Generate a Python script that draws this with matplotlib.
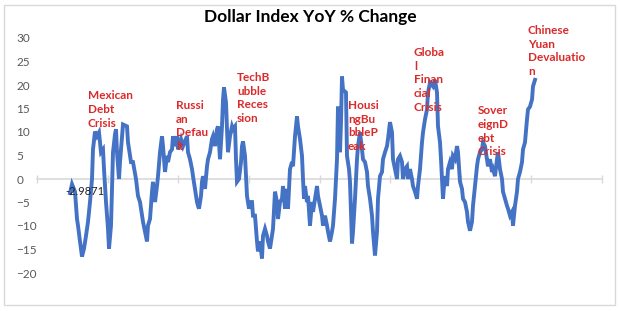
#!/usr/bin/env python3
"""Dollar Index YoY % change with crisis annotations -> out.png"""

import matplotlib
matplotlib.use("Agg")
import matplotlib.pyplot as plt
import numpy as np
from matplotlib.patches import Rectangle

# month index from start of series, YoY % change
month = [
    0, 2, 5, 7, 8, 10, 12, 14, 16, 18, 20, 22, 23, 25, 27, 29, 31, 33, 34, 36,
    38, 39, 41, 42, 43, 45, 46, 47, 49, 50, 52, 53, 57, 58, 61, 63, 66, 68, 70, 73,
    75, 77, 78, 80, 82, 83, 85, 87, 88, 90, 92, 93, 95, 97, 98, 100, 102, 103, 105, 107,
    108, 111, 113, 117, 118, 120, 122, 123, 125, 127, 128, 129, 131, 132, 133, 135, 137, 138, 140, 142,
    143, 145, 147, 148, 150, 152, 153, 154, 156, 157, 158, 160, 162, 163, 165, 166, 167, 169, 171, 172,
    173, 175, 176, 177, 179, 181, 182, 183, 185, 187, 188, 190, 192, 193, 195, 197, 198, 200, 202, 203,
    205, 207, 208, 210, 212, 213, 215, 217, 218, 220, 222, 223, 225, 227, 228, 230, 232, 233, 234, 235,
    237, 238, 240, 242, 243, 245, 247, 248, 250, 252, 253, 255, 257, 258, 260, 262, 263, 265, 267, 268,
    269, 270, 271, 272, 273, 275, 276, 277, 279, 280, 282, 283, 285, 287, 288, 290, 292, 293, 295, 297,
    298, 300, 302, 303, 305, 307, 308, 310, 312, 313, 315, 317, 318, 320, 322, 323, 325, 327, 328, 330,
    332, 333, 335, 337, 338, 340, 342, 343, 345, 347, 348, 350, 352, 353, 355, 357, 358, 360, 363, 365,
    367, 368, 370, 371, 373, 374, 375, 377, 378, 380, 382, 383, 385, 387, 388, 390, 392, 393, 395, 397,
    398, 400, 402, 403, 405, 407, 408, 410, 412, 413, 415, 417, 418, 420, 422, 423, 425, 427, 428, 430,
    432, 433, 435, 437, 438, 440, 442, 443, 445, 447, 448, 450, 452, 453, 455, 457, 458, 460, 462, 463,
    465,
]
yoy = [
    -2.9871, -1.1, -2.7, -8.5, -9.9, -13.3, -16.5, -14.8, -12.1, -9.1, -4.9, 0.0, 6.3, 10.1, 9.1, 9.9, 5.7, 6.3, 2.1, -4.9,
    -10.6, -14.8, -9.9, -2.1, 5.7, 9.5, 10.6, 5.7, 0.0, 3.6, 9.1, 11.6, 11.2, 7.8, 3.6, 3.6, 0.0, -3.6, -4.9, -9.1,
    -11.2, -13.3, -9.9, -8.5, -2.7, -0.6, -4.9, -1.5, 0.6, 5.7, 9.1, 7.0, 1.5, 4.9, 3.6, 5.7, 6.3, 9.1, 7.0, 9.1,
    6.3, 8.5, 7.0, 9.1, 5.7, 4.2, 2.1, 0.6, -2.1, -4.9, -5.7, -6.3, -3.6, -0.6, 0.6, -2.1, 2.7, 4.2, 5.7, 8.5,
    9.1, 7.0, 10.6, 11.2, 4.2, 11.2, 16.9, 19.5, 16.3, 10.6, 5.7, 9.1, 11.2, 10.6, 11.2, 4.2, -0.6, 0.0, 3.6, 7.0,
    8.0, 4.9, 0.6, -3.6, -6.3, -4.9, -4.9, -7.8, -7.8, -13.3, -15.4, -13.3, -16.9, -12.1, -10.6, -12.1, -13.3, -14.8, -12.1, -10.6,
    -2.7, -4.9, -8.5, -4.9, -4.2, -1.5, -6.3, -2.1, -6.3, 2.1, 3.6, 2.7, 9.1, 13.3, 11.2, 8.5, 4.9, 0.0, -4.2, -1.5,
    -4.9, -3.6, -9.9, -4.9, -7.0, -4.2, -1.5, -3.6, -5.7, -7.8, -9.9, -7.8, -9.9, -11.2, -13.3, -11.2, -9.9, -4.2, 4.2, 15.4,
    9.9, 5.7, 12.1, 21.8, 19.0, 18.6, 18.4, 4.9, 2.1, -0.6, -13.7, -11.2, -4.2, 4.2, 7.0, 9.9, 6.3, 4.2, 3.6, 1.5,
    -1.5, -4.2, -7.8, -11.2, -16.3, -11.2, -4.2, 0.6, 1.5, 4.2, 5.7, 7.0, 8.5, 12.1, 9.9, 4.2, 2.1, 0.0, 4.2, 4.9,
    3.6, 0.0, 2.1, 2.7, 0.0, 2.1, 0.0, -1.5, -2.7, -4.2, -1.5, 2.1, 7.8, 9.9, 12.7, 14.8, 18.4, 20.5, 19.7, 21.1,
    18.4, 11.2, 7.8, 4.2, -4.2, -1.5, 0.6, -1.5, 2.1, 3.6, 2.1, 4.9, 4.2, 7.0, 5.7, -0.6, -2.1, -4.2, -4.9, -7.0,
    -9.1, -11.0, -9.1, -5.7, -1.5, 2.7, 4.2, 5.7, 6.3, 7.8, 7.0, 4.2, 2.7, 4.2, 1.5, 2.1, 0.6, 4.2, 5.7, 2.1,
    0.0, -2.7, -4.2, -5.7, -6.3, -7.8, -7.0, -9.9, -5.7, -2.7, 0.0, 1.5, 3.6, 6.3, 7.8, 12.7, 14.8, 15.4, 16.9, 19.7,
    21.1,
]

# crisis annotations: text, month, value at top of text
event_labels = [
    "Mexican\nDebt\nCrisis",
    "Russi\nan\nDefau\nlt",
    "TechB\nubble\nReces\nsion",
    "Housi\nngBu\nbbleP\neak",
    "Globa\nl\nFinan\ncial\nCrisis",
    "Sover\neignD\nebt\nCrisis",
    "Chinese\nYuan\nDevaluatio\nn",
]
event_month = [18, 106, 167, 278, 344, 408, 458]
event_top = [18.9, 16.8, 22.8, 16.8, 28.1, 15.7, 32.8]

W, H = 620, 311


def main():
    fig = plt.figure(figsize=(W / 100, H / 100), dpi=100)
    fig.patches.append(Rectangle((4 / W, 1 - 305 / H), 611 / W, 300 / H,
                                 transform=fig.transFigure, fill=False,
                                 edgecolor="#D9D9D9", linewidth=1.0))
    ax = fig.add_axes([37 / W, 1 - 273 / H, 565 / W, 235 / H])
    ax.set_facecolor("none")

    ax.plot(month, yoy, color="#4472C4", linewidth=2.8, solid_joinstyle="miter", zorder=3)

    ax.set_xlim(-33, 532)
    ax.set_ylim(-20, 30)
    ax.set_yticks(np.arange(-20, 31, 5))
    ax.set_xticks(np.linspace(-33, 532, 9))
    ax.set_xticklabels([])

    for s in ("left", "right", "top"):
        ax.spines[s].set_visible(False)
    ax.spines["bottom"].set_position(("data", 0))
    ax.spines["bottom"].set_color("#D9D9D9")
    ax.spines["bottom"].set_linewidth(1.2)
    ax.tick_params(axis="x", direction="inout", length=6, color="#D9D9D9", width=1.0)
    ax.tick_params(axis="y", length=0, pad=15, labelsize=8.5, labelcolor="#595959")
    for lab in ax.get_yticklabels():
        lab.set_horizontalalignment("left")
        lab.set_family("Lato")

    fig.text(0.5, 1 - 17 / H, "Dollar Index YoY % Change", ha="center", va="center",
             fontsize=12.5, fontweight="bold", family="Lato", color="#000000")

    for txt, mx, top in zip(event_labels, event_month, event_top):
        ax.text(mx, top, txt, ha="left", va="top", fontsize=8.5, fontweight="bold",
                family="Lato", color="#DA2A2A", linespacing=1.3, zorder=4, clip_on=False)

    ax.text(month[0] - 5, yoy[0] + 0.4, f"{yoy[0]:.4f}", ha="left", va="center",
            fontsize=8, family="Lato", color="#222222", zorder=4)

    fig.savefig("out.png", dpi=100)
    plt.close(fig)


if __name__ == "__main__":
    main()
